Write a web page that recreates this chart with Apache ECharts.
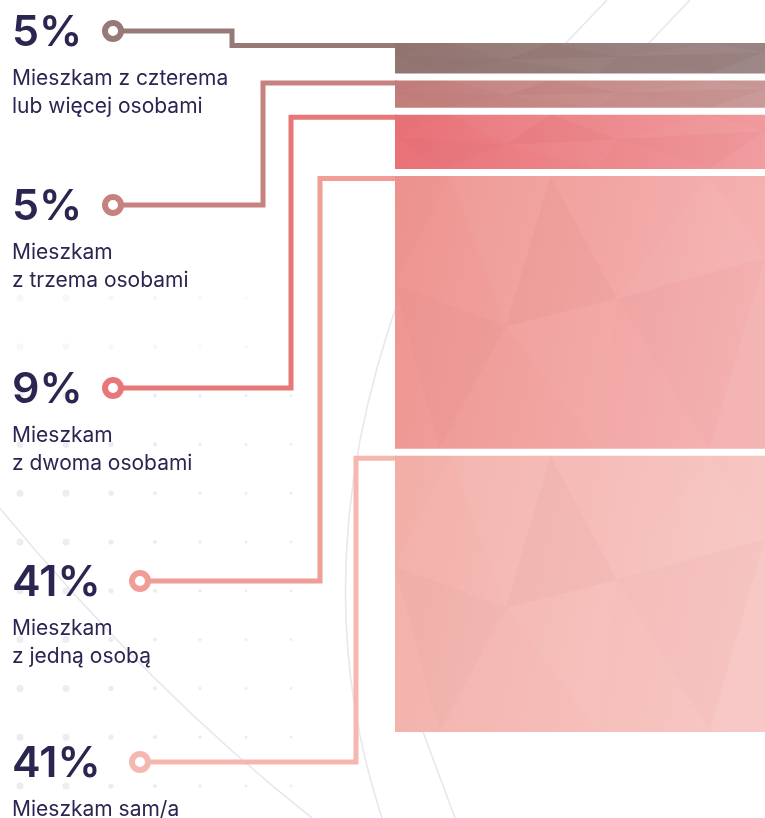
<!DOCTYPE html>
<html lang="pl">
<head>
<meta charset="utf-8">
<title>Z kim mieszkasz?</title>
<script src="https://cdn.jsdelivr.net/npm/echarts@6/dist/echarts.min.js"></script>
<style>
  html, body { margin: 0; padding: 0; background: #ffffff; }
  #chart { width: 765px; height: 818px; }
</style>
</head>
<body>
<div id="chart"></div>
<script>
// Household answers, top of the column first
const categories = [
  'Mieszkam z czterema\nlub więcej osobami',
  'Mieszkam\nz trzema osobami',
  'Mieszkam\nz dwoma osobami',
  'Mieszkam\nz jedną osobą',
  'Mieszkam sam/a'
];
const shares = [5, 5, 9, 41, 41];

// Colours per answer: block gradient (left -> right) and connector
const blockLeft  = ['#927571', '#c27d7a', '#e87177', '#ee948f', '#f3b0a9'];
const blockRight = ['#9a8483', '#c89795', '#f09a9d', '#f4b2b1', '#f7c6c3'];
const lineColors = ['#977977', '#c5827e', '#e8777a', '#f09c97', '#f5b8b1'];

// Left-hand annotation layout (circle centre and elbow of the connector)
const markerX = [113, 113, 113, 140, 140];
const markerY = [31, 205, 388, 581, 762];
const elbowX  = [232, 263, 291, 320, 356];

const TEXT = '#2a2651';
const GAP = 7;

// Stack boundaries for the column
const starts = [];
let acc = 0;
shares.forEach(v => { starts.push(acc); acc += v; });
const total = acc;
const blocks = shares.map((v, i) => [starts[i], starts[i] + v, i]);

// Faint faceted texture laid over each block (unit coordinates)
const facets = [
  [[[0.15, 0], [0.42, 0], [0.30, 0.55]], 'rgba(255,255,255,0.035)'],
  [[[0.30, 0.55], [0.42, 0], [0.60, 0.45]], 'rgba(120,40,40,0.018)'],
  [[[0.42, 0], [0.85, 0], [0.60, 0.45]], 'rgba(255,255,255,0.02)'],
  [[[0.60, 0.45], [0.85, 0], [1, 0.30]], 'rgba(255,255,255,0.04)'],
  [[[0, 0.40], [0.30, 0.55], [0.12, 1]], 'rgba(120,40,40,0.02)'],
  [[[0.30, 0.55], [0.60, 0.45], [0.55, 1]], 'rgba(255,255,255,0.03)'],
  [[[0.60, 0.45], [1, 0.30], [0.85, 1]], 'rgba(120,40,40,0.015)'],
  [[[0.85, 1], [1, 0.30], [1, 1]], 'rgba(255,255,255,0.035)'],
  [[[0, 0], [0.15, 0], [0, 0.40]], 'rgba(120,40,40,0.015)']
];

function renderBlock(params, api) {
  const i = api.value(2);
  const p0 = api.coord([0, api.value(0)]);
  const p1 = api.coord([1, api.value(1)]);
  const gapTop = i === 0 ? 0 : GAP / 2;
  const gapBottom = i === shares.length - 1 ? 0 : GAP / 2;
  const x = p0[0];
  const y = p0[1] + gapTop;
  const w = p1[0] - p0[0];
  const h = p1[1] - p0[1] - gapTop - gapBottom;
  const lineY = y + 2.5;

  const children = [];
  // connector from the marker to the top edge of the block
  children.push({
    type: 'polyline',
    shape: { points: [[markerX[i], markerY[i]], [elbowX[i], markerY[i]], [elbowX[i], lineY], [x + 2, lineY]] },
    style: { stroke: lineColors[i], lineWidth: 5, fill: null, lineJoin: 'miter' }
  });
  children.push({
    type: 'circle',
    shape: { cx: markerX[i], cy: markerY[i], r: 8 },
    style: { fill: '#ffffff', stroke: lineColors[i], lineWidth: 6 }
  });
  // block
  children.push({
    type: 'rect',
    shape: { x: x, y: y, width: w, height: h },
    style: {
      fill: {
        type: 'linear', x: 0, y: 0, x2: 1, y2: 0.3,
        colorStops: [{ offset: 0, color: blockLeft[i] }, { offset: 1, color: blockRight[i] }]
      }
    }
  });
  facets.forEach(([pts, color]) => {
    children.push({
      type: 'polygon',
      shape: { points: pts.map(p => [x + p[0] * w, y + p[1] * h]) },
      style: { fill: color }
    });
  });
  // value and answer text
  children.push({
    type: 'text',
    style: {
      text: shares[i] + '%', x: 12, y: markerY[i] + 2,
      fill: TEXT, font: '600 43px Inter',
      textAlign: 'left', textVerticalAlign: 'middle'
    }
  });
  children.push({
    type: 'text',
    style: {
      text: categories[i], x: 12, y: markerY[i] + 33,
      fill: TEXT, font: '400 21px Inter', lineHeight: 28.5,
      textAlign: 'left', textVerticalAlign: 'top'
    }
  });
  return { type: 'group', children: children };
}

// Background ornament: dot field and thin arcs
const decor = [];
const dotCols = [20, 66, 111, 155, 200, 246, 291];
const dotRadius = [3.5, 3.5, 2.6, 2.1, 1.7, 1.5, 1.4];
for (let r = 0; r < 11; r++) {
  const cy = 298 + r * 48.8;
  dotCols.forEach((cx, k) => {
    const fade = r < 2 ? 0.45 : 1;
    decor.push({
      type: 'circle', z: 0, silent: true,
      shape: { cx: cx, cy: cy, r: dotRadius[k] },
      style: { fill: 'rgba(225,225,232,' + (0.6 * fade) + ')' }
    });
  });
}
const arcStyle = { stroke: '#e7e7ee', lineWidth: 1.6, fill: null };
decor.push(
  { type: 'bezierCurve', z: 0, silent: true, shape: { x1: 402, y1: 290, cpx1: 300, cpy1: 570, x2: 382, y2: 818 }, style: arcStyle },
  { type: 'bezierCurve', z: 0, silent: true, shape: { x1: 400, y1: 670, cpx1: 428, cpy1: 745, x2: 455, y2: 818 }, style: arcStyle },
  { type: 'bezierCurve', z: 0, silent: true, shape: { x1: -2, y1: 506, cpx1: 150, cpy1: 690, x2: 312, y2: 818 }, style: arcStyle },
  { type: 'line', z: 0, silent: true, shape: { x1: 607, y1: 0, x2: 565, y2: 44 }, style: arcStyle },
  { type: 'line', z: 0, silent: true, shape: { x1: 690, y1: 0, x2: 648, y2: 44 }, style: arcStyle }
);

const chart = echarts.init(document.getElementById('chart'), null, { renderer: 'canvas' });
chart.setOption({
  backgroundColor: '#ffffff',
  animation: false,
  graphic: { elements: decor },
  grid: { left: 395, right: 0, top: 43, bottom: 86 },
  xAxis: { type: 'value', min: 0, max: 1, show: false },
  yAxis: { type: 'value', inverse: true, min: 0, max: total, show: false },
  series: [{
    type: 'custom',
    z: 5,
    renderItem: renderBlock,
    data: blocks,
    encode: { x: -1, y: [0, 1] },
    clip: false
  }]
});
</script>
</body>
</html>
